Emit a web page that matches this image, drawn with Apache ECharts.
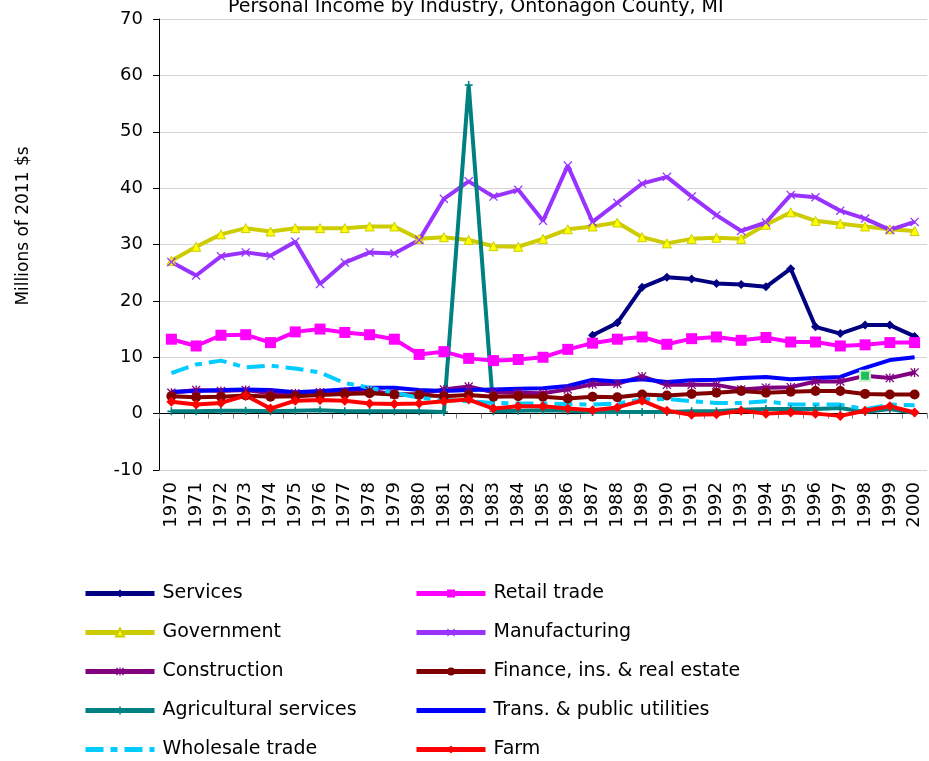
<!DOCTYPE html>
<html lang="en">
<head>
    <meta charset="utf-8" />
    <title>Personal Income by Industry, Ontonagon County, MI</title>
    <script src="https://cdn.jsdelivr.net/npm/echarts@6.0.0/dist/echarts.min.js"></script>
    <style>
        html, body { margin: 0; padding: 0; background: #fff; }
        #chart { width: 929px; height: 761px; }
    </style>
</head>
<body>
    <div id="chart"></div>
    <script>
        // years on the x axis
        var years = [];
        for (var y = 1970; y <= 2000; y++) years.push(String(y));

        var yTicks = { min: -10, max: 70, step: 10 };

        // millions of 2011 $ (null = no data)
        var services = [null, null, null, null, null, null, null, null, null, null,
            null, null, null, null, null, null, null,
            13.9, 16.1, 22.4, 24.2, 23.9, 23.1, 22.9, 22.5, 25.7, 15.4, 14.2, 15.7, 15.7, 13.7];
        var retail = [13.2, 12.0, 13.9, 14.0, 12.6, 14.5, 15.0, 14.4, 14.0, 13.2,
            10.5, 11.0, 9.8, 9.4, 9.6, 10.0, 11.4, 12.5, 13.2, 13.6,
            12.3, 13.3, 13.6, 13.0, 13.5, 12.7, 12.7, 12.0, 12.2, 12.6, 12.6];
        var government = [27.1, 29.6, 31.8, 32.9, 32.3, 32.9, 32.9, 32.9, 33.2, 33.2,
            31.0, 31.3, 30.8, 29.7, 29.6, 31.0, 32.7, 33.2, 33.9, 31.3,
            30.2, 31.0, 31.2, 31.0, 33.5, 35.7, 34.2, 33.7, 33.2, 32.7, 32.4];
        var manufacturing = [26.9, 24.5, 27.9, 28.6, 28.0, 30.5, 23.0, 26.8, 28.6, 28.4,
            30.8, 38.1, 41.2, 38.5, 39.7, 34.2, 44.0, 34.0, 37.4, 40.8,
            42.0, 38.5, 35.2, 32.4, 33.9, 38.8, 38.4, 36.0, 34.6, 32.6, 34.0];
        var construction = [3.7, 4.2, 4.0, 4.2, 3.6, 3.6, 3.8, 3.9, 4.1, 3.4,
            3.5, 4.3, 4.8, 3.8, 3.7, 3.6, 4.3, 5.2, 5.3, 6.6,
            5.1, 5.1, 5.1, 4.3, 4.6, 4.7, 5.7, 5.7, 6.7, 6.3, 7.3];
        var finance = [3.1, 2.9, 3.0, 3.2, 3.0, 3.1, 3.3, 3.5, 3.6, 3.4,
            3.3, 3.1, 3.3, 3.0, 3.1, 3.0, 2.7, 3.0, 2.9, 3.4,
            3.2, 3.5, 3.7, 4.0, 3.7, 3.9, 4.0, 4.0, 3.5, 3.4, 3.4];
        var agServices = [0.4, 0.4, 0.5, 0.5, 0.4, 0.5, 0.6, 0.4, 0.4, 0.4,
            0.4, 0.3, 58.3, 0.4, 0.5, 0.6, 0.5, 0.3, 0.3, 0.3,
            0.3, 0.4, 0.4, 0.7, 0.8, 0.8, 0.8, 1.0, 0.3, 0.8, 0.1];
        var transport = [3.9, 4.0, 4.2, 4.3, 4.2, 3.8, 4.0, 4.3, 4.6, 4.6,
            4.2, 4.0, 4.2, 4.3, 4.4, 4.5, 4.9, 6.0, 5.7, 6.1,
            5.6, 5.9, 6.0, 6.3, 6.5, 6.1, 6.3, 6.5, 8.1, 9.5, 10.0];
        var wholesale = [7.2, 8.7, 9.4, 8.2, 8.5, 8.0, 7.3, 5.4, 4.6, 3.7,
            2.8, 2.4, 2.2, 1.9, 1.8, 1.8, 1.7, 1.6, 1.8, 2.5,
            2.6, 2.2, 1.9, 1.9, 2.2, 1.6, 1.6, 1.6, 0.8, 1.6, 1.5];
        var farm = [2.1, 1.6, 1.9, 3.2, 0.9, 2.3, 2.4, 2.3, 1.8, 1.7,
            1.8, 2.2, 2.5, 0.9, 1.3, 1.3, 0.9, 0.6, 1.1, 2.3,
            0.5, -0.2, -0.1, 0.5, 0.0, 0.2, 0.0, -0.4, 0.5, 1.3, 0.2];

        var FONT = 'DejaVu Sans';

        // marker shapes
        var xMark = 'path://M1,0L5,4L9,0L10,1L6,5L10,9L9,10L5,6L1,10L0,9L4,5L0,1Z';
        var starMark = 'path://M1,0L5,4L9,0L10,1L6,5L10,9L9,10L5,6L1,10L0,9L4,5L0,1Z M4.3,0H5.7V10H4.3Z';
        var plusMark = 'path://M4,0H6V4H10V6H6V10H4V6H0V4H4Z';

        function line(name, data, color, symbol, size, extra) {
            var s = {
                name: name,
                type: 'line',
                data: data,
                symbol: symbol,
                symbolSize: size,
                showAllSymbol: true,
                connectNulls: false,
                lineStyle: { color: color, width: 4 },
                itemStyle: { color: color },
                emphasis: { disabled: true }
            };
            if (extra) {
                for (var k in extra) s[k] = extra[k];
            }
            return s;
        }

        // the highlighted 1998 construction point (green square in the picture)
        var constructionData = construction.map(function (v, i) {
            if (years[i] === '1998') {
                return {
                    value: v, symbol: 'rect', symbolSize: 10,
                    itemStyle: { color: '#1fbf5f', borderColor: '#c8f0c8', borderWidth: 2 }
                };
            }
            return v;
        });

        var series = [
            line('Services', services, '#000080', 'diamond', 9),
            line('Retail trade', retail, '#ff00ff', 'rect', 11),
            line('Government', government, '#cccc00', 'triangle', 9, {
                itemStyle: { color: '#ffff00', borderColor: '#cccc00', borderWidth: 1 }
            }),
            line('Manufacturing', manufacturing, '#9933ff', xMark, 9),
            line('Construction', constructionData, '#800080', starMark, 9),
            line('Finance, ins. & real estate', finance, '#800000', 'circle', 10),
            line('Agricultural services', agServices, '#008080', plusMark, 8),
            line('Trans. & public utilities', transport, '#0000ff', 'none', 0),
            line('Wholesale trade', wholesale, '#00ccff', 'none', 0, {
                lineStyle: { color: '#00ccff', width: 4, type: [18, 7, 7, 7] }
            }),
            line('Farm', farm, '#ff0000', 'diamond', 10)
        ];

        var legendText = { fontFamily: FONT, fontSize: 19, color: '#000', padding: [0, 0, 0, 3] };
        var noMarker = { opacity: 0 };

        function legendBox(left, names) {
            return {
                orient: 'vertical',
                left: left,
                top: 584,
                height: 200,
                padding: 0,
                itemWidth: 69,
                itemHeight: 10,
                itemGap: 20,
                selectedMode: false,
                lineStyle: { width: 5 },
                textStyle: legendText,
                data: names
            };
        }

        var option = {
            animation: false,
            backgroundColor: '#fff',
            title: {
                text: 'Personal Income by Industry, Ontonagon County, MI',
                left: 228,
                top: -2,
                padding: 0,
                textStyle: { fontFamily: FONT, fontSize: 19, fontWeight: 'normal', color: '#000' }
            },
            graphic: [{
                type: 'text',
                x: 24,
                y: 226,
                rotation: Math.PI / 2,
                style: {
                    text: 'Millions of 2011 $s',
                    fontFamily: FONT,
                    fontSize: 17,
                    fill: '#000',
                    align: 'center',
                    verticalAlign: 'middle'
                }
            }],
            legend: [
                legendBox(83, ['Services', 'Government', 'Construction', 'Agricultural services',
                    { name: 'Wholesale trade', itemStyle: noMarker }]),
                legendBox(414, ['Retail trade', 'Manufacturing', 'Finance, ins. & real estate',
                    { name: 'Trans. & public utilities', itemStyle: noMarker }, 'Farm'])
            ],
            grid: {
                left: 159,
                right: 2,
                top: 19,
                bottom: 291,
                containLabel: false
            },
            xAxis: [{
                // labels along the bottom
                type: 'category',
                data: years,
                position: 'bottom',
                boundaryGap: true,
                axisLine: { show: false, onZero: false },
                axisTick: { show: false },
                axisLabel: {
                    rotate: 90,
                    interval: 0,
                    margin: 12,
                    fontFamily: FONT,
                    fontSize: 18,
                    color: '#000'
                },
                splitLine: { show: false }
            }, {
                // the axis line at zero with its ticks
                type: 'category',
                data: years,
                position: 'bottom',
                boundaryGap: true,
                axisLine: { show: true, onZero: true, lineStyle: { color: '#000', width: 1 } },
                axisTick: { show: true, interval: 0, length: 5, lineStyle: { color: '#808080' } },
                axisLabel: { show: false },
                splitLine: { show: false }
            }],
            yAxis: {
                type: 'value',
                min: yTicks.min,
                max: yTicks.max,
                interval: yTicks.step,
                axisLine: { show: true, onZero: false, lineStyle: { color: '#000', width: 1 } },
                axisTick: { show: true, length: 6, lineStyle: { color: '#000' } },
                axisLabel: {
                    margin: 16,
                    fontFamily: FONT,
                    fontSize: 18,
                    color: '#000'
                },
                splitLine: { show: true, lineStyle: { color: '#d4d4d4', width: 1 } }
            },
            series: series
        };

        var chart = echarts.init(document.getElementById('chart'), null, { renderer: 'canvas' });
        chart.setOption(option);
    </script>
</body>
</html>
